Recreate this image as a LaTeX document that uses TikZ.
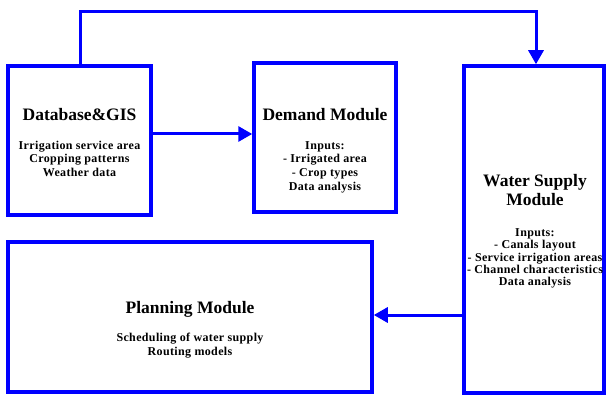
\documentclass[tikz,border=0pt]{standalone}
\usepackage{fontspec}
\setmainfont{Liberation Serif}[BoldFont={Liberation Serif Bold}]
\newfontfamily\modfont{Liberation Serif Bold}
\newfontfamily\notefont{Liberation Serif Bold}[LetterSpace=3]
\usetikzlibrary{arrows.meta}
\definecolor{modblue}{RGB}{0,0,255}
\begin{document}
\begin{tikzpicture}[x=1pt,y=-1pt,
  module/.style={draw=modblue, line width=3.5pt, inner sep=0pt, rectangle},
  title/.style={font=\modfont\fontsize{17.5}{20}\selectfont, anchor=base, inner sep=0pt},
  body/.style={font=\notefont\fontsize{12}{13.5}\selectfont, anchor=base, inner sep=0pt},
  link/.style={draw=modblue, line width=3pt},
  flow/.style={link, -{Triangle[length=14pt,width=15pt]}}
]
\path[use as bounding box] (0,0) rectangle (606,396);

% module boxes
\node[module, minimum width=143pt, minimum height=149pt] (db)  at (79.5,140.5) {};
\node[module, minimum width=142pt, minimum height=149pt] (dem) at (325,137.5) {};
\node[module, minimum width=140pt, minimum height=327pt] (ws)  at (534,229.5) {};
\node[module, minimum width=364pt, minimum height=150pt] (pl)  at (190,317) {};

% Database & GIS
\node[title] (dbT)  at (79.5,121)   {Database\&GIS};
\node[body]  (dbL1) at (79.5,149.5) {Irrigation service area};
\node[body]  (dbL2) at (79.5,163)   {Cropping patterns};
\node[body]  (dbL3) at (79.5,176.5) {Weather data};

% Demand module
\node[title] (demT)  at (325,120.5) {Demand Module};
\node[body]  (demL1) at (325,149.5) {Inputs:};
\node[body]  (demL2) at (325,163)   {- Irrigated area};
\node[body]  (demL3) at (325,176.5) {- Crop types};
\node[body]  (demL4) at (325,190)   {Data analysis};

% Water supply module
\node[title] (wsT1) at (535,186)   {Water Supply};
\node[title] (wsT2) at (535,205)   {Module};
\node[body]  (wsL1) at (535,236.5) {Inputs:};
\node[body]  (wsL2) at (535,248.5) {- Canals layout};
\node[body]  (wsL3) at (535,261)   {- Service irrigation areas};
\node[body]  (wsL4) at (535,273.5) {- Channel characteristics};
\node[body]  (wsL5) at (535,285.5) {Data analysis};

% Planning module
\node[title] (plT)  at (190,313)   {Planning Module};
\node[body]  (plL1) at (190,341.5) {Scheduling of water supply};
\node[body]  (plL2) at (190,355.5) {Routing models};

% connector routing points
\coordinate (topL) at (80,12);
\coordinate (topR) at (536,12);
\coordinate (rowA) at (0,134);
\coordinate (rowB) at (0,315);

% connectors
\draw[flow] (db.east |- rowA) -- (dem.west |- rowA);
\draw[flow] (db.north -| topL) -- (topL) -- (topR) -- (ws.north -| topR);
\draw[flow] (ws.west |- rowB) -- (pl.east |- rowB);
\end{tikzpicture}
\end{document}
